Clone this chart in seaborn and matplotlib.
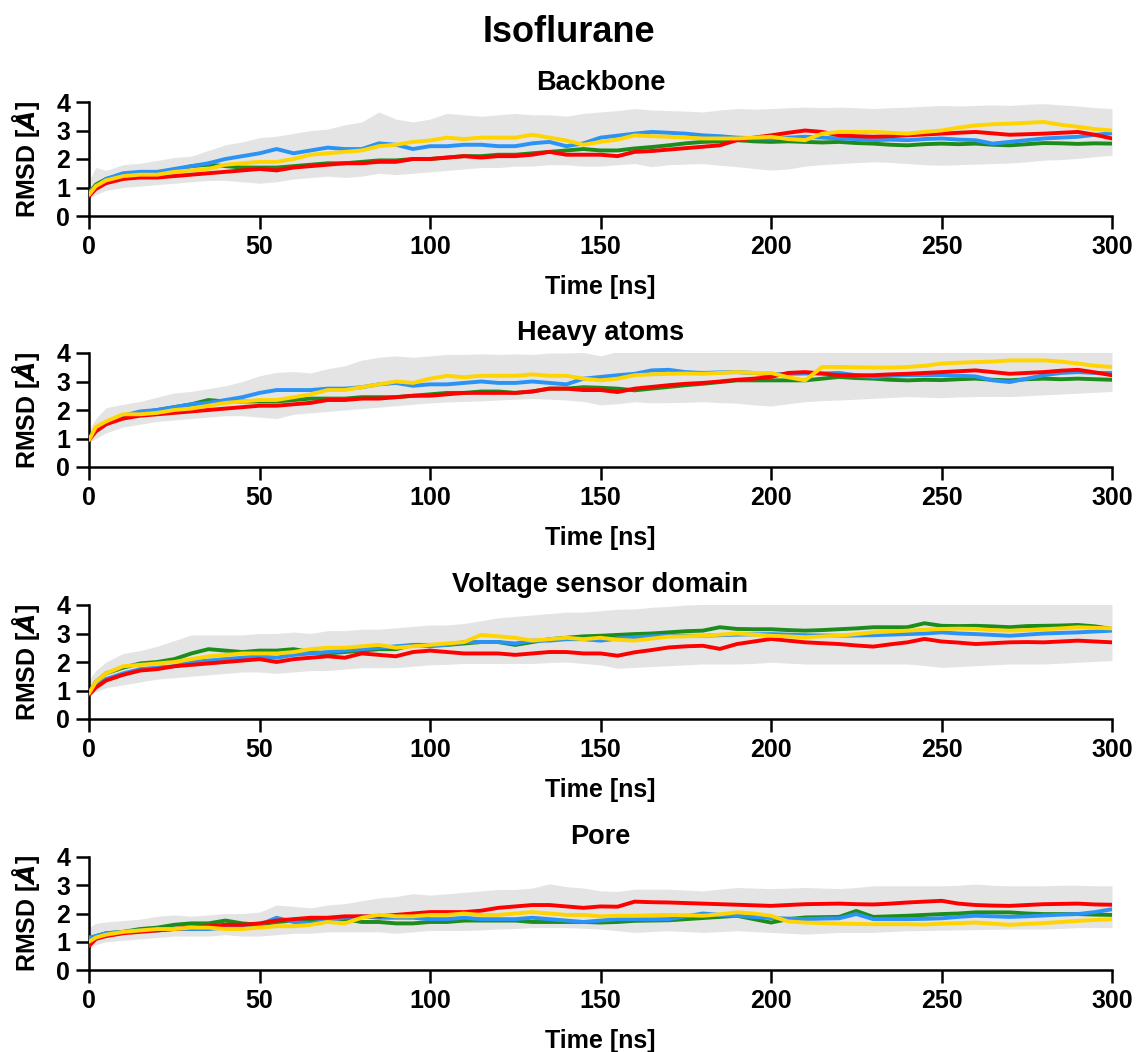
import numpy as np
import pandas as pd
import matplotlib
matplotlib.use("Agg")
import matplotlib.pyplot as plt
import seaborn as sns

# ---------------- data ----------------
TIME = [0, 2] + list(range(5, 301, 5))  # ns, 62 points

RUNS = ["run1", "run2", "run3", "run4"]
COLORS = ["#1c8c1c", "#2b93f5", "#ff0000", "#ffd400"]
PANEL_TITLES = ["Backbone", "Heavy atoms", "Voltage sensor domain", "Pore"]
XTICKS = [0, 50, 100, 150, 200, 250, 300]
YTICKS = [0, 1, 2, 3, 4]

# ---- Backbone ----
BB_green = [0.80,1.10,1.30,1.45,1.50,1.50,1.60,1.75,1.80,1.75,
            1.70,1.70,1.70,1.75,1.80,1.85,1.85,1.90,1.95,1.95,
            2.00,2.00,2.05,2.10,2.10,2.15,2.15,2.20,2.25,2.30,
            2.35,2.30,2.30,2.37,2.42,2.48,2.55,2.60,2.62,2.66,
            2.62,2.60,2.62,2.60,2.58,2.60,2.56,2.54,2.50,2.48,
            2.52,2.54,2.52,2.54,2.50,2.48,2.52,2.56,2.55,2.53,
            2.55,2.54]
BB_blue = [0.85,1.00,1.30,1.50,1.55,1.55,1.65,1.75,1.85,2.00,
           2.10,2.20,2.35,2.20,2.30,2.40,2.35,2.35,2.55,2.50,
           2.35,2.45,2.45,2.50,2.50,2.45,2.45,2.55,2.60,2.45,
           2.55,2.75,2.82,2.89,2.95,2.92,2.89,2.83,2.80,2.75,
           2.73,2.72,2.75,2.78,2.75,2.72,2.70,2.66,2.68,2.66,
           2.70,2.72,2.68,2.66,2.54,2.60,2.66,2.72,2.75,2.78,
           2.85,2.90]
BB_red = [0.70,0.95,1.15,1.30,1.35,1.35,1.40,1.45,1.50,1.55,
          1.60,1.65,1.60,1.70,1.75,1.80,1.85,1.85,1.90,1.90,
          2.00,2.00,2.05,2.10,2.05,2.10,2.10,2.15,2.25,2.15,
          2.15,2.15,2.10,2.25,2.28,2.33,2.38,2.43,2.48,2.66,
          2.75,2.83,2.92,3.00,2.95,2.83,2.80,2.78,2.80,2.83,
          2.86,2.89,2.92,2.95,2.90,2.85,2.87,2.89,2.92,2.95,
          2.85,2.72]
BB_gold = [0.75,1.05,1.25,1.40,1.45,1.45,1.55,1.60,1.65,1.80,
           1.85,1.90,1.90,2.00,2.15,2.20,2.25,2.30,2.45,2.50,
           2.60,2.65,2.75,2.70,2.75,2.75,2.75,2.85,2.75,2.65,
           2.50,2.60,2.68,2.83,2.80,2.78,2.75,2.72,2.72,2.72,
           2.75,2.78,2.70,2.66,2.89,2.95,2.95,2.95,2.92,2.89,
           2.95,3.00,3.10,3.18,3.22,3.24,3.27,3.30,3.20,3.13,
           3.05,3.00]
BB_lo = [0.60,0.75,0.90,1.00,1.05,1.10,1.15,1.20,1.25,1.25,
         1.20,1.15,1.20,1.30,1.35,1.40,1.35,1.40,1.50,1.45,
         1.50,1.55,1.60,1.65,1.70,1.70,1.75,1.75,1.80,1.80,
         1.75,1.75,1.80,1.84,1.73,1.80,1.82,1.84,1.78,1.73,
         1.67,1.61,1.65,1.75,1.80,1.84,1.87,1.90,1.88,1.84,
         1.80,1.78,1.80,1.82,1.84,1.86,1.90,1.96,1.98,2.02,
         2.08,2.13]
BB_hi = [1.25,1.70,1.60,1.80,1.85,1.95,2.05,2.10,2.30,2.50,
         2.60,2.75,2.80,2.90,3.00,3.05,3.20,3.30,3.65,3.40,
         3.30,3.40,3.60,3.55,3.50,3.55,3.60,3.55,3.55,3.50,
         3.60,3.65,3.70,3.77,3.72,3.70,3.68,3.65,3.72,3.77,
         3.75,3.77,3.80,3.82,3.80,3.82,3.80,3.77,3.80,3.82,
         3.85,3.88,3.86,3.88,3.90,3.88,3.92,3.94,3.90,3.86,
         3.80,3.77]

# ---- Heavy atoms ----
HA_green = [0.95,1.30,1.55,1.80,1.90,2.00,2.10,2.20,2.35,2.30,
            2.30,2.30,2.30,2.35,2.40,2.40,2.40,2.45,2.45,2.45,
            2.50,2.55,2.60,2.60,2.65,2.65,2.60,2.65,2.75,2.75,
            2.80,2.78,2.75,2.69,2.75,2.81,2.87,2.92,2.98,3.04,
            3.04,3.04,3.04,3.04,3.10,3.16,3.12,3.10,3.06,3.04,
            3.06,3.05,3.08,3.10,3.06,3.04,3.08,3.10,3.08,3.10,
            3.08,3.06]
HA_blue = [1.00,1.25,1.50,1.80,1.95,2.00,2.10,2.20,2.25,2.35,
           2.45,2.60,2.70,2.70,2.70,2.75,2.75,2.80,2.90,2.95,
           2.85,2.90,2.90,2.95,3.00,2.95,2.95,3.00,2.95,2.90,
           3.10,3.16,3.22,3.27,3.39,3.41,3.33,3.30,3.32,3.33,
           3.30,3.25,3.27,3.28,3.28,3.30,3.22,3.16,3.20,3.22,
           3.22,3.22,3.20,3.18,3.04,2.98,3.10,3.22,3.30,3.33,
           3.30,3.30]
HA_red = [0.95,1.25,1.50,1.70,1.80,1.85,1.90,1.95,2.00,2.05,
          2.10,2.15,2.15,2.20,2.25,2.35,2.35,2.40,2.40,2.45,
          2.50,2.50,2.55,2.60,2.60,2.60,2.60,2.65,2.75,2.75,
          2.70,2.70,2.63,2.75,2.81,2.87,2.92,2.95,3.00,3.06,
          3.10,3.16,3.30,3.33,3.28,3.22,3.22,3.22,3.25,3.27,
          3.30,3.33,3.36,3.39,3.33,3.27,3.30,3.33,3.38,3.41,
          3.32,3.22]
HA_gold = [0.95,1.40,1.60,1.85,1.85,1.90,2.00,2.05,2.15,2.25,
           2.30,2.35,2.35,2.45,2.55,2.70,2.70,2.80,2.90,3.00,
           2.95,3.10,3.20,3.15,3.20,3.20,3.20,3.25,3.20,3.20,
           3.10,3.04,3.10,3.22,3.25,3.27,3.28,3.27,3.30,3.33,
           3.30,3.30,3.15,3.04,3.51,3.51,3.50,3.49,3.49,3.51,
           3.55,3.63,3.66,3.68,3.70,3.74,3.74,3.74,3.70,3.63,
           3.55,3.51]
HA_lo = [0.85,1.00,1.20,1.40,1.50,1.60,1.65,1.70,1.75,1.80,
         1.80,1.75,1.70,1.85,1.90,1.95,2.00,2.05,2.10,2.15,
         2.20,2.25,2.28,2.30,2.32,2.35,2.38,2.40,2.38,2.35,
         2.30,2.18,2.22,2.29,2.25,2.26,2.27,2.29,2.26,2.24,
         2.18,2.14,2.22,2.29,2.33,2.35,2.38,2.41,2.44,2.47,
         2.45,2.43,2.46,2.47,2.48,2.47,2.50,2.53,2.56,2.59,
         2.62,2.65]
HA_hi = [1.30,1.70,2.08,2.20,2.30,2.45,2.60,2.65,2.75,2.85,
         3.00,3.20,3.32,3.35,3.30,3.45,3.55,3.75,3.85,3.90,
         3.85,3.90,3.95,3.95,3.97,3.95,3.97,3.95,4.00,4.00,
         4.02,3.90,4.05,4.05,4.05,4.05,4.05,4.05,4.05,4.05,
         4.05,4.05,4.05,4.05,4.05,4.05,4.05,4.05,4.05,4.05,
         4.05,4.05,4.05,4.05,4.05,4.05,4.05,4.05,4.05,4.05,
         4.05,4.05]

# ---- Voltage sensor domain ----
VS_green = [0.90,1.30,1.60,1.80,1.95,2.00,2.10,2.30,2.45,2.40,
            2.35,2.40,2.40,2.45,2.35,2.30,2.35,2.40,2.45,2.45,
            2.60,2.60,2.60,2.65,2.70,2.70,2.60,2.70,2.80,2.85,
            2.90,2.92,2.95,2.98,3.00,3.04,3.08,3.10,3.22,3.16,
            3.15,3.15,3.12,3.10,3.12,3.15,3.18,3.22,3.22,3.22,
            3.36,3.27,3.26,3.27,3.25,3.22,3.26,3.27,3.28,3.30,
            3.25,3.16]
VS_blue = [0.90,1.15,1.40,1.60,1.75,1.80,1.85,2.00,2.05,2.10,
           2.15,2.20,2.15,2.25,2.30,2.35,2.40,2.45,2.50,2.55,
           2.60,2.55,2.60,2.70,2.70,2.70,2.65,2.75,2.75,2.80,
           2.80,2.75,2.82,2.87,2.90,2.92,2.92,2.92,2.94,2.96,
           2.97,2.98,2.96,2.94,2.93,2.92,2.93,2.94,2.96,2.98,
           3.00,3.04,3.00,2.98,2.95,2.92,2.96,3.00,3.02,3.04,
           3.07,3.10]
VS_red = [0.85,1.10,1.35,1.55,1.70,1.75,1.85,1.90,1.95,2.00,
          2.05,2.10,2.00,2.10,2.15,2.20,2.15,2.30,2.25,2.20,
          2.35,2.40,2.35,2.30,2.30,2.30,2.25,2.30,2.35,2.35,
          2.30,2.30,2.22,2.34,2.42,2.51,2.55,2.57,2.46,2.63,
          2.72,2.81,2.75,2.69,2.66,2.63,2.58,2.54,2.62,2.69,
          2.81,2.72,2.68,2.63,2.66,2.69,2.70,2.69,2.72,2.75,
          2.72,2.69]
VS_gold = [0.90,1.30,1.60,1.85,1.90,1.95,2.00,2.10,2.20,2.25,
           2.30,2.30,2.30,2.35,2.45,2.50,2.50,2.55,2.60,2.50,
           2.55,2.60,2.65,2.70,2.95,2.90,2.85,2.75,2.80,2.85,
           2.80,2.85,2.78,2.75,2.82,2.89,2.90,2.92,2.96,3.00,
           2.96,2.92,2.90,2.87,2.90,2.92,2.98,3.04,3.07,3.10,
           3.13,3.16,3.17,3.16,3.12,3.10,3.12,3.15,3.18,3.22,
           3.20,3.18]
VS_lo = [0.80,0.95,1.10,1.20,1.30,1.40,1.45,1.50,1.55,1.60,
         1.65,1.65,1.60,1.65,1.70,1.70,1.75,1.80,1.80,1.80,
         1.85,1.90,1.92,1.95,1.95,1.95,1.95,1.95,1.98,2.00,
         1.95,1.90,1.78,1.81,1.84,1.87,1.90,1.93,1.93,1.93,
         1.95,1.99,1.96,1.93,1.93,1.93,1.93,1.93,1.93,1.93,
         1.88,1.81,1.84,1.87,1.90,1.93,1.93,1.93,1.96,1.99,
         2.02,2.05]
VS_hi = [1.37,1.70,2.00,2.30,2.40,2.55,2.75,2.95,2.95,2.95,
         2.95,3.00,3.00,3.05,3.00,3.10,3.10,3.15,3.15,3.20,
         3.25,3.30,3.30,3.35,3.45,3.55,3.60,3.65,3.70,3.75,
         3.75,3.80,3.85,3.86,3.92,3.95,4.00,4.02,4.05,4.05,
         4.05,4.05,4.05,4.05,4.05,4.05,4.05,4.05,4.05,4.05,
         4.05,4.05,4.05,4.05,4.05,4.05,4.05,4.05,4.05,4.05,
         4.05,4.05]

# ---- Pore ----
PO_green = [1.05,1.20,1.30,1.35,1.45,1.50,1.60,1.65,1.65,1.75,
            1.65,1.60,1.70,1.75,1.75,1.75,1.80,1.70,1.70,1.65,
            1.65,1.70,1.70,1.75,1.75,1.75,1.75,1.70,1.70,1.70,
            1.70,1.68,1.70,1.74,1.75,1.76,1.80,1.84,1.88,1.92,
            1.80,1.68,1.80,1.86,1.87,1.88,2.09,1.88,1.90,1.92,
            1.95,1.98,2.00,2.04,2.04,2.04,2.00,1.98,1.98,1.98,
            1.96,1.95]
PO_blue = [1.15,1.20,1.30,1.35,1.40,1.40,1.45,1.45,1.45,1.50,
           1.55,1.60,1.85,1.70,1.65,1.75,1.85,1.90,1.85,1.85,
           1.85,1.80,1.80,1.85,1.80,1.80,1.80,1.85,1.80,1.75,
           1.70,1.75,1.80,1.80,1.79,1.80,1.90,2.00,1.95,1.92,
           1.88,1.84,1.82,1.80,1.82,1.83,1.98,1.80,1.80,1.80,
           1.81,1.83,1.88,1.92,1.90,1.88,1.90,1.93,1.96,1.98,
           2.05,2.15]
PO_red = [0.85,1.10,1.20,1.30,1.35,1.40,1.45,1.50,1.55,1.60,
          1.60,1.65,1.75,1.80,1.85,1.85,1.90,1.90,1.90,1.95,
          2.00,2.05,2.05,2.05,2.10,2.20,2.25,2.30,2.30,2.25,
          2.20,2.25,2.24,2.42,2.40,2.39,2.37,2.35,2.33,2.31,
          2.29,2.27,2.30,2.33,2.34,2.35,2.33,2.32,2.35,2.39,
          2.42,2.45,2.35,2.30,2.28,2.27,2.30,2.33,2.34,2.35,
          2.32,2.31]
PO_gold = [1.00,1.15,1.25,1.35,1.40,1.45,1.45,1.50,1.50,1.45,
           1.45,1.50,1.55,1.55,1.60,1.70,1.65,1.85,1.95,1.90,
           1.90,1.95,1.95,2.00,1.95,1.95,2.00,2.05,2.00,1.95,
           1.95,1.90,1.92,1.92,1.94,1.95,1.94,1.92,1.97,2.04,
           2.00,1.92,1.72,1.68,1.66,1.64,1.63,1.62,1.62,1.62,
           1.61,1.64,1.66,1.68,1.64,1.60,1.63,1.66,1.70,1.74,
           1.77,1.80]
PO_lo = [0.75,0.90,1.00,1.05,1.10,1.15,1.20,1.20,1.20,1.25,
         1.20,1.20,1.25,1.30,1.30,1.35,1.35,1.35,1.35,1.30,
         1.35,1.40,1.40,1.40,1.42,1.45,1.47,1.50,1.50,1.50,
         1.48,1.45,1.39,1.33,1.36,1.39,1.36,1.33,1.36,1.39,
         1.36,1.33,1.30,1.27,1.30,1.33,1.33,1.33,1.36,1.39,
         1.40,1.41,1.42,1.43,1.44,1.45,1.45,1.45,1.47,1.50,
         1.50,1.50]
PO_hi = [1.50,1.65,1.70,1.75,1.80,1.90,1.95,1.90,1.95,2.00,
         2.00,2.05,2.30,2.25,2.20,2.30,2.35,2.45,2.55,2.60,
         2.70,2.65,2.70,2.75,2.80,2.85,2.85,2.90,3.05,2.95,
         2.90,2.80,2.78,2.86,2.86,2.86,2.83,2.80,2.86,2.92,
         2.90,2.88,2.90,2.92,2.90,2.88,2.92,2.98,2.98,2.98,
         2.98,2.98,3.00,3.04,3.00,2.98,2.98,2.98,3.00,3.00,
         2.98,2.98]

PANELS = [
    ([BB_green, BB_blue, BB_red, BB_gold], BB_lo, BB_hi),
    ([HA_green, HA_blue, HA_red, HA_gold], HA_lo, HA_hi),
    ([VS_green, VS_blue, VS_red, VS_gold], VS_lo, VS_hi),
    ([PO_green, PO_blue, PO_red, PO_gold], PO_lo, PO_hi),
]

# ---------------- style ----------------
sns.set_theme(style="ticks", rc={
    "text.color": "black", "axes.labelcolor": "black",
    "xtick.color": "black", "ytick.color": "black",
    "axes.edgecolor": "black",
})
plt.rcParams["font.family"] = ["Liberation Sans", "DejaVu Sans"]
plt.rcParams["font.weight"] = "bold"
plt.rcParams["mathtext.fontset"] = "dejavusans"

W, H = 1137, 1052
fig = plt.figure(figsize=(W / 100, H / 100), dpi=100)

left_px, right_px = 89, 1112
tops_px = [102, 353, 605, 857]
bottoms_px = [216, 467, 719, 970]

fig.text(0.5, 1 - 32 / H, "Isoflurane", ha="center", va="center",
         fontsize=26, fontweight="bold", color="black")

for i, ((lines, lo, hi), title) in enumerate(zip(PANELS, PANEL_TITLES)):
    ax = fig.add_axes([left_px / W, 1 - bottoms_px[i] / H,
                       (right_px - left_px) / W,
                       (bottoms_px[i] - tops_px[i]) / H])
    ax.fill_between(TIME, lo, hi, color="#e4e4e4", linewidth=0, zorder=1)
    frames = []
    for run, vals in zip(RUNS, lines):
        frames.append(pd.DataFrame({"t": TIME, "rmsd": vals, "run": run}))
    df = pd.concat(frames, ignore_index=True)
    sns.lineplot(data=df, x="t", y="rmsd", hue="run", hue_order=RUNS,
                 palette=COLORS, linewidth=2.8, legend=False, ax=ax,
                 zorder=3)
    ax.set_xlim(0, 300)
    ax.set_ylim(0, 4)
    ax.set_xticks(XTICKS)
    ax.set_yticks(YTICKS)
    ax.set_xticklabels([str(v) for v in XTICKS])
    ax.set_yticklabels([str(v) for v in YTICKS])
    sns.despine(ax=ax)
    for s in ("left", "bottom"):
        ax.spines[s].set_linewidth(1.8)
        ax.spines[s].set_color("black")
    ax.tick_params(axis="both", which="major", length=9.5, width=1.8,
                   labelsize=18, color="black", labelcolor="black", pad=4)
    for lab in ax.get_xticklabels() + ax.get_yticklabels():
        lab.set_fontweight("bold")
    ax.set_xlabel("Time [ns]", fontsize=18, fontweight="bold", labelpad=12,
                  color="black")
    ax.set_ylabel(r"RMSD [$\mathit{\AA}$]", fontsize=18, fontweight="bold",
                  labelpad=10, color="black")
    ax.set_title(title, fontsize=19.5, fontweight="bold", pad=9,
                 color="black")
    ax.set_facecolor("white")

fig.savefig("out.png", dpi=100, facecolor="white")
